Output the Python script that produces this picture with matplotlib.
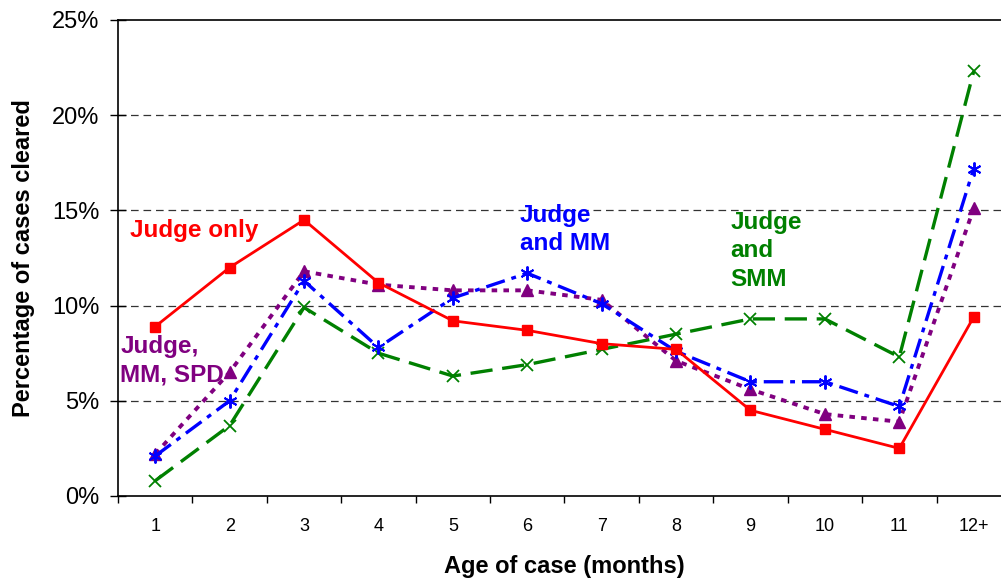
import matplotlib
matplotlib.use("Agg")
import matplotlib.pyplot as plt
import numpy as np

plt.rcParams['font.family'] = ['Liberation Sans', 'DejaVu Sans']
plt.rcParams['lines.scale_dashes'] = False

categories = ["1", "2", "3", "4", "5", "6", "7", "8", "9", "10", "11", "12+"]
judge_only = [8.9, 12.0, 14.5, 11.2, 9.2, 8.7, 8.0, 7.7, 4.5, 3.5, 2.5, 9.4]
judge_mm = [2.1, 5.0, 11.3, 7.8, 10.4, 11.7, 10.1, 7.6, 6.0, 6.0, 4.7, 17.2]
judge_mm_spd = [2.2, 6.5, 11.8, 11.1, 10.8, 10.8, 10.3, 7.1, 5.6, 4.3, 3.9, 15.1]
judge_smm = [0.8, 3.7, 9.9, 7.5, 6.3, 6.9, 7.7, 8.5, 9.3, 9.3, 7.3, 22.3]
y_ticks = [0, 5, 10, 15, 20, 25]
y_tick_labels = ["0%", "5%", "10%", "15%", "20%", "25%"]

fig = plt.figure(figsize=(10.01, 5.78), dpi=100)
ax = fig.add_axes([0.1179, 0.1419, 0.892, 0.8235])

x = np.arange(1, len(categories) + 1)

RED = "#FF0000"
BLUE = "#0000FF"
PURPLE = "#800080"
GREEN = "#008000"

ax.plot(x, judge_smm, color=GREEN, lw=2.4, dashes=(16, 7),
        marker='x', ms=8, mew=1.3, zorder=3)
ax.plot(x, judge_mm_spd, color=PURPLE, lw=2.8, dashes=(4, 4.5),
        marker='^', ms=9, zorder=4)
ax.plot(x, judge_mm, color=BLUE, lw=2.4, dashes=(14, 5, 3.5, 5),
        marker=(6, 2, 0), ms=10, mew=1.4, zorder=5)
ax.plot(x, judge_only, color=RED, lw=2.0, linestyle='-',
        marker='s', ms=7, zorder=6)

ax.set_xlim(0.5, len(categories) + 0.5)
ax.set_ylim(0, 25)

ax.set_yticks(y_ticks)
ax.set_yticklabels(y_tick_labels, fontsize=17)
ax.tick_params(axis='y', direction='inout', length=11, width=1, pad=8)

ax.set_xticks(x)
ax.set_xticklabels(categories, fontsize=13)
ax.set_xticks(np.arange(0.5, len(categories) + 1.0, 1.0), minor=True)
ax.tick_params(axis='x', which='major', length=0, pad=16)
ax.tick_params(axis='x', which='minor', direction='out', length=5, width=1)

for yv in y_ticks[1:-1]:
    ax.axhline(yv, color='#333333', lw=0.9, dashes=(5.5, 3.5), zorder=1)

for s in ['left', 'bottom', 'top']:
    ax.spines[s].set_color('black')
    ax.spines[s].set_linewidth(1.2)
ax.spines['right'].set_visible(False)

ax.set_xlabel("Age of case (months)", fontsize=17, fontweight='bold', labelpad=14)
ax.set_ylabel("Percentage of cases cleared", fontsize=17, fontweight='bold', labelpad=12)

ax.text(0.66, 13.97, "Judge only", color=RED, fontsize=17.5, fontweight='bold',
        ha='left', va='center')
ax.text(5.9, 14.0, "Judge\nand MM", color=BLUE, fontsize=17.5, fontweight='bold',
        ha='left', va='center', linespacing=1.3)
ax.text(8.73, 12.87, "Judge\nand\nSMM", color=GREEN, fontsize=17.5, fontweight='bold',
        ha='left', va='center', linespacing=1.3)
ax.text(0.53, 7.09, "Judge,\nMM, SPD", color=PURPLE, fontsize=17.5, fontweight='bold',
        ha='left', va='center', linespacing=1.3)

fig.savefig("out.png", dpi=100)
